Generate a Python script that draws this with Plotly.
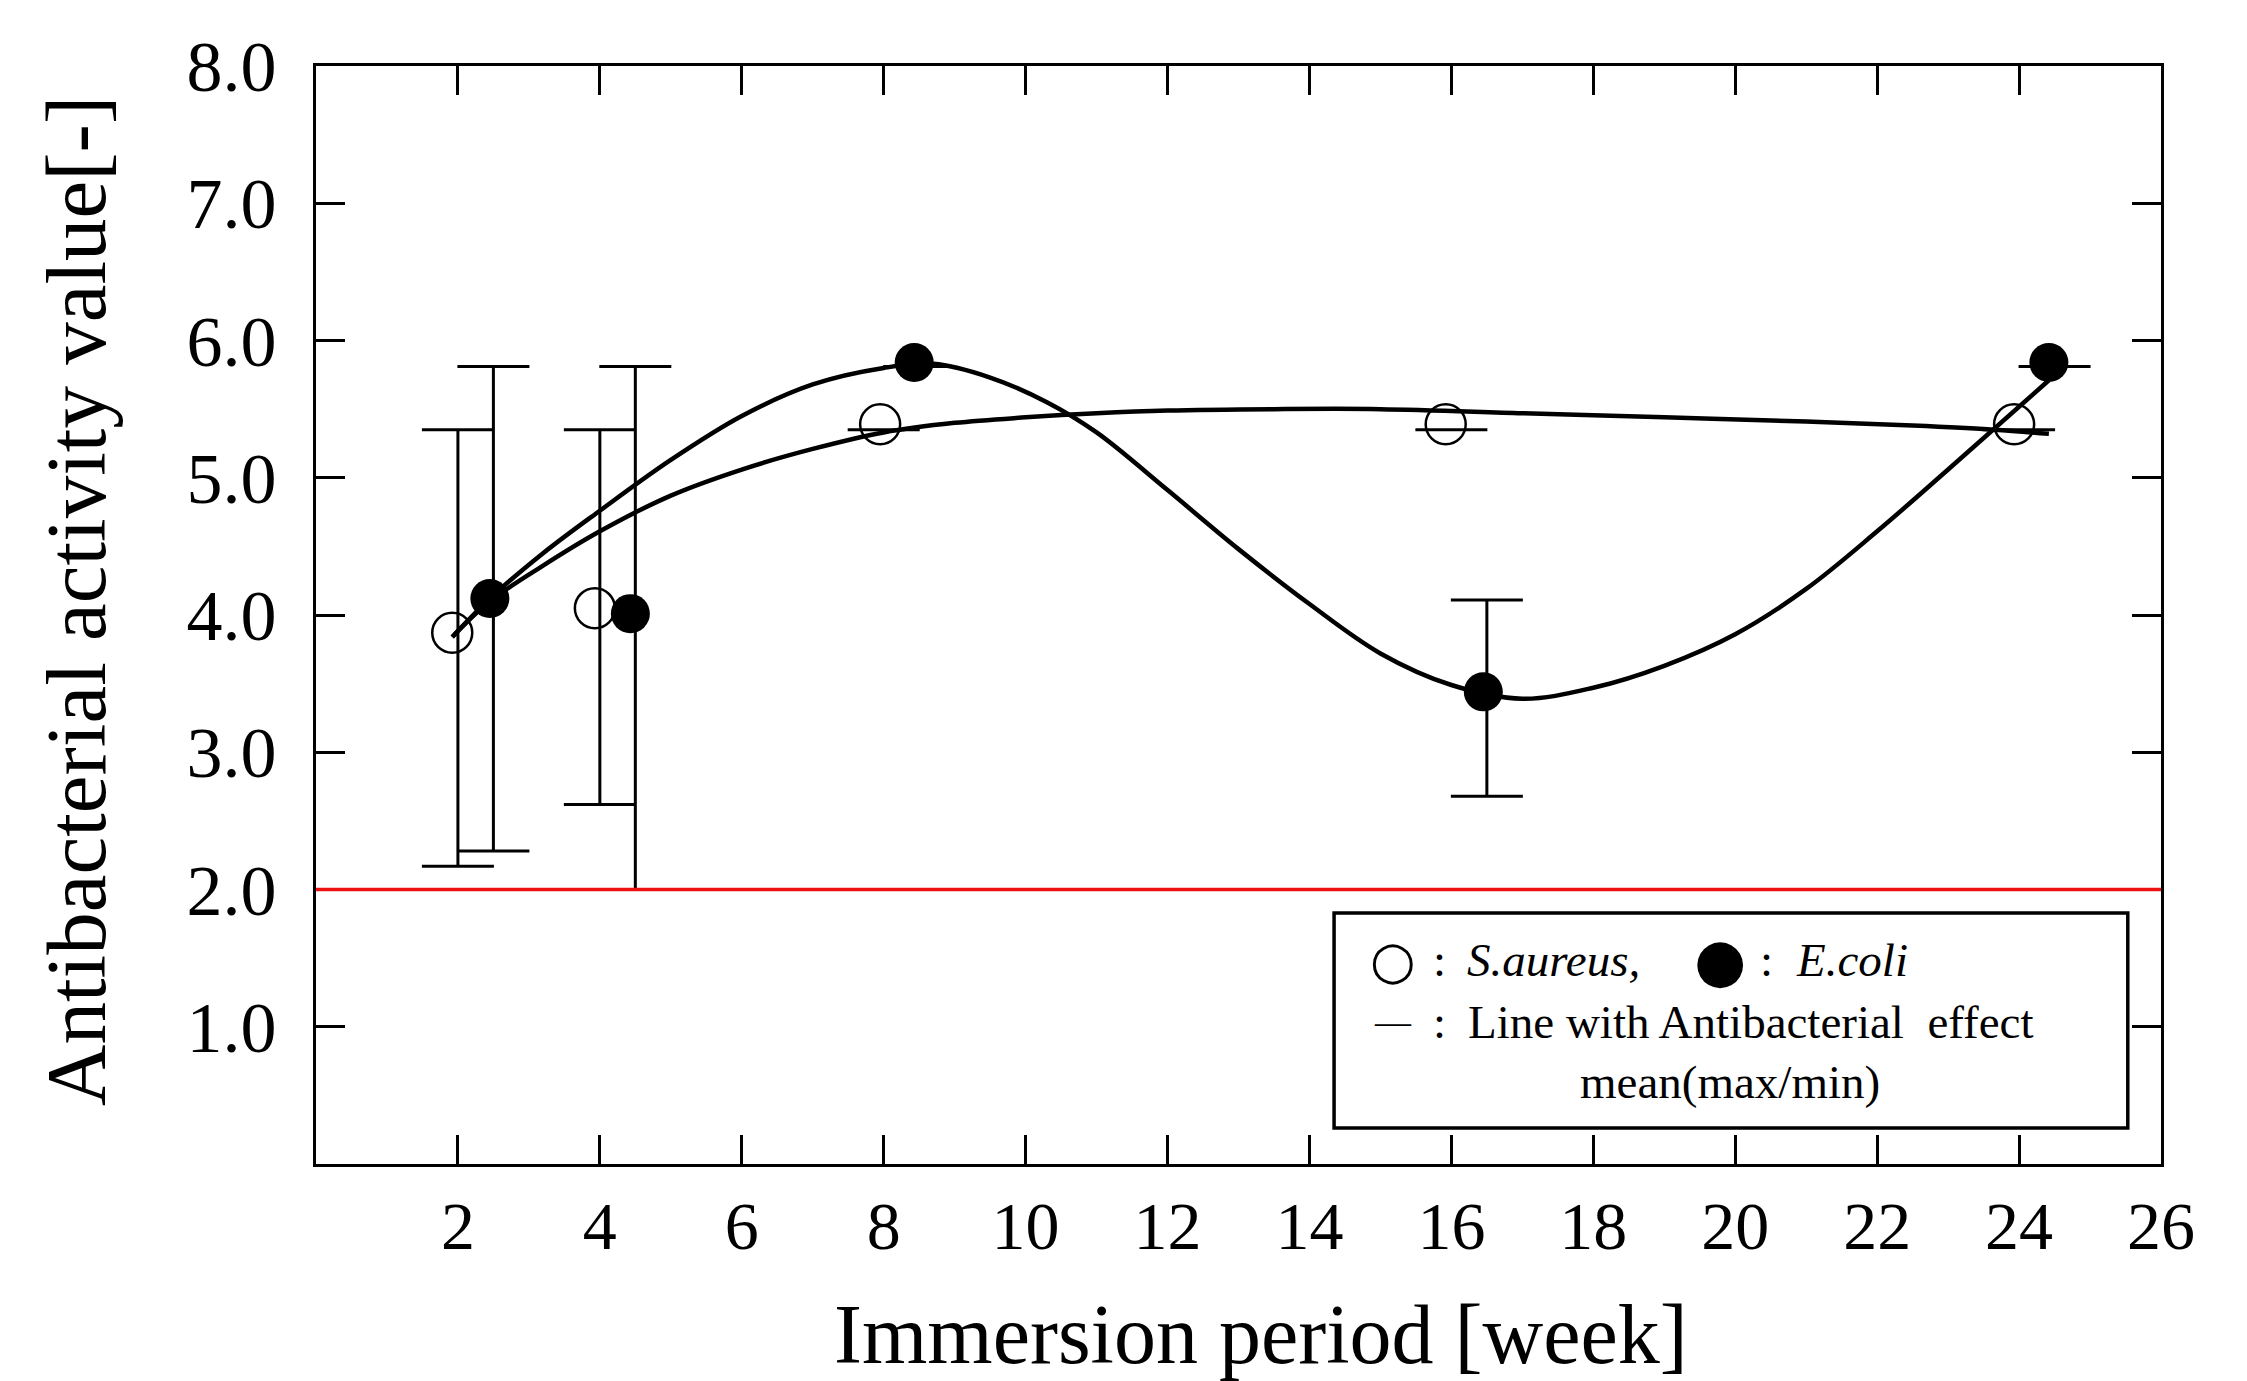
import plotly.graph_objects as go

# ---------------- data ----------------
weeks = [2, 4, 8, 16, 24]

# S.aureus (open circles)
s_mark_x = [1.92, 3.93, 7.95, 15.92, 23.93]
s_mean = [3.87, 4.05, 5.39, 5.39, 5.39]
s_bar_x = [2.0, 4.0, 8.0, 16.0, 24.0]
s_max = [5.35, 5.35, 5.35, 5.35, 5.35]
s_min = [2.17, 2.62, 5.35, 5.35, 5.35]

# E.coli (filled circles)
e_mark_x = [2.45, 4.43, 8.43, 16.45, 24.42]
e_mean = [4.12, 4.01, 5.84, 3.44, 5.84]
e_bar_x = [2.5, 4.5, 8.5, 16.5, 24.5]
e_max = [5.81, 5.81, 5.81, 4.11, 5.81]
e_min = [2.28, 2.00, 5.81, 2.68, 5.81]

# fitted trend curves
s_curve_x = [1.92, 2.45, 3.2, 4.0, 5.0, 6.0, 7.0, 8.0, 9.0, 10.0, 11.0, 12.0, 13.5, 15.0,
             17.0, 19.0, 21.0, 22.5, 23.65, 24.42]
s_curve_y = [3.84, 4.10, 4.36, 4.61, 4.87, 5.06, 5.21, 5.33, 5.40, 5.44, 5.47, 5.49, 5.50, 5.50,
             5.47, 5.44, 5.41, 5.38, 5.35, 5.32]

e_curve_x = [1.92, 2.45, 3.2, 4.0, 5.0, 6.0, 7.0, 8.0, 8.7, 9.5, 10.3, 11.0, 12.0, 13.0, 14.0,
             15.0, 16.0, 17.0, 18.0, 19.0, 20.0, 21.0, 22.0, 23.0, 24.42]
e_curve_y = [3.84, 4.12, 4.45, 4.76, 5.13, 5.45, 5.68, 5.80, 5.83, 5.73, 5.55, 5.33, 4.91, 4.48, 4.08,
             3.72, 3.49, 3.39, 3.47, 3.63, 3.86, 4.19, 4.61, 5.06, 5.71]

threshold = 2.0

x_ticks = [2, 4, 6, 8, 10, 12, 14, 16, 18, 20, 22, 24, 26]
y_ticks = [1, 2, 3, 4, 5, 6, 7, 8]
y_tick_text = ["1.0", "2.0", "3.0", "4.0", "5.0", "6.0", "7.0", "8.0"]

FONT = "Liberation Serif, Times New Roman, serif"

fig = go.Figure()

# error bars (min/max)
for bx, mx, mn in [(s_bar_x, s_max, s_min), (e_bar_x, e_max, e_min)]:
    fig.add_trace(go.Scatter(
        x=bx, y=mx, mode="markers",
        marker=dict(size=1, opacity=0),
        error_y=dict(type="data", symmetric=False,
                     array=[0] * len(mx),
                     arrayminus=[a - b for a, b in zip(mx, mn)],
                     color="black", thickness=3, width=36),
        showlegend=False, hoverinfo="skip"))

# trend curves
fig.add_trace(go.Scatter(x=s_curve_x, y=s_curve_y, mode="lines",
                         line=dict(color="black", width=4.5, shape="spline", smoothing=1.0),
                         showlegend=False))
fig.add_trace(go.Scatter(x=e_curve_x, y=e_curve_y, mode="lines",
                         line=dict(color="black", width=4.5, shape="spline", smoothing=1.0),
                         showlegend=False))

# markers
fig.add_trace(go.Scatter(x=s_mark_x, y=s_mean, mode="markers",
                         marker=dict(symbol="circle-open", size=40, color="black",
                                     line=dict(width=2.5, color="black")),
                         showlegend=False))
fig.add_trace(go.Scatter(x=e_mark_x, y=e_mean, mode="markers",
                         marker=dict(symbol="circle", size=39, color="black"),
                         showlegend=False))

# red threshold line
fig.add_shape(type="line", xref="paper", x0=0, x1=1, yref="y", y0=threshold, y1=threshold,
              line=dict(color="#ee1111", width=3.5), layer="above")

# legend box
fig.add_shape(type="rect", xref="paper", yref="paper", x0=0.5518, x1=0.982, y0=0.0328, y1=0.2286,
              line=dict(color="black", width=3.5), fillcolor="white", layer="above")

LF = 47
ann = [
    dict(text="○", x=0.5837, y=0.1858, xanchor="center", font=dict(size=52, family="DejaVu Sans")),
    dict(text=":", x=0.609, y=0.1858, xanchor="center", font=dict(size=LF, family=FONT)),
    dict(text="<i>S.aureus,</i>", x=0.6228, y=0.1858, xanchor="left", font=dict(size=LF, family=FONT)),
    dict(text="●", x=0.761, y=0.1858, xanchor="center", font=dict(size=60, family="DejaVu Sans")),
    dict(text=":", x=0.7864, y=0.1858, xanchor="center", font=dict(size=LF, family=FONT)),
    dict(text="<i>E.coli</i>", x=0.801, y=0.1858, xanchor="left", font=dict(size=LF, family=FONT)),
    dict(text="—", x=0.5837, y=0.1293, xanchor="center", font=dict(size=36, family=FONT)),
    dict(text=":", x=0.609, y=0.1293, xanchor="center", font=dict(size=LF, family=FONT)),
    dict(text="Line with Antibacterial  effect", x=0.6233, y=0.1293, xanchor="left",
         font=dict(size=LF, family=FONT)),
    dict(text="mean(max/min)", x=0.7664, y=0.0747, xanchor="center", font=dict(size=LF, family=FONT)),
    # axis titles
    dict(text="Antibacterial activity value[-]", x=-0.130, y=0.513, xanchor="center",
         textangle=-90, font=dict(size=85, family=FONT)),
    dict(text="Immersion period [week]", x=0.512, y=-0.155, xanchor="center",
         font=dict(size=84, family=FONT)),
]
for a in ann:
    a.setdefault("yanchor", "middle")
    fig.add_annotation(xref="paper", yref="paper", showarrow=False,
                       font_color="black", **a)

fig.update_layout(
    width=2247, height=1381,
    margin=dict(l=316, r=86, t=66, b=217),
    plot_bgcolor="white", paper_bgcolor="white",
    font=dict(family=FONT, color="black"),
    showlegend=False,
)
fig.update_xaxes(range=[0, 26], tickmode="array", tickvals=x_ticks,
                 ticktext=[str(v) for v in x_ticks],
                 ticks="inside", ticklen=29, tickwidth=2.5, tickcolor="black",
                 showline=True, linecolor="black", linewidth=3, mirror="ticks",
                 showgrid=False, zeroline=False,
                 tickfont=dict(size=68, family=FONT, color="black"),
                 ticklabelstandoff=0)
fig.update_yaxes(range=[0, 8], tickmode="array", tickvals=y_ticks, ticktext=y_tick_text,
                 ticks="inside", ticklen=29, tickwidth=2.5, tickcolor="black",
                 showline=True, linecolor="black", linewidth=3, mirror="ticks",
                 showgrid=False, zeroline=False,
                 tickfont=dict(size=72, family=FONT, color="black"),
                 ticklabelstandoff=22)

fig.write_html("out.html")
